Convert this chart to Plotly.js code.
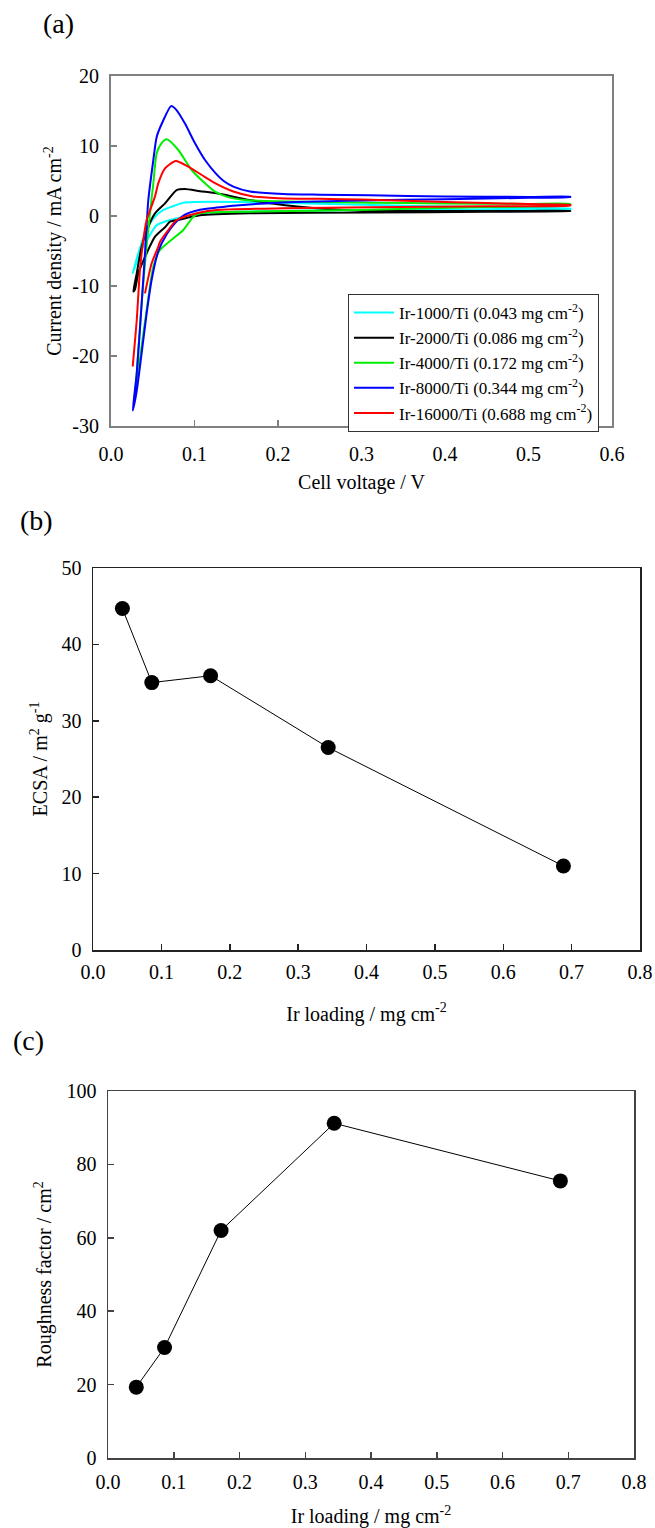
<!DOCTYPE html>
<html>
<head>
<meta charset="utf-8">
<script src="https://cdn.plot.ly/plotly-3.0.1.min.js"></script>
<style>html,body{margin:0;padding:0;background:#fff;}#chart{width:655px;height:1528px;}</style>
</head>
<body>
<div id="chart"></div>
<script>
// ---------- Panel (a): cyclic voltammograms ----------
const seriesNames = [
  'Ir-1000/Ti (0.043 mg cm<sup>-2</sup>)',
  'Ir-2000/Ti (0.086 mg cm<sup>-2</sup>)',
  'Ir-4000/Ti (0.172 mg cm<sup>-2</sup>)',
  'Ir-8000/Ti (0.344 mg cm<sup>-2</sup>)',
  'Ir-16000/Ti (0.688 mg cm<sup>-2</sup>)'
];
const seriesColors = ['#00ffff', '#000000', '#00ee00', '#0000ff', '#ff0000'];

const v1000 = [0.026,0.0327,0.0407,0.0467,0.0527,0.0627,0.0727,0.0866,0.10,0.15,0.20,0.25,0.30,0.40,0.50,0.55,
               0.55,0.45,0.35,0.25,0.15,0.1066,0.0707,0.0547,0.0487,0.0347,0.026];
const j1000 = [-8.19,-5.33,-2.48,-1.05,-0.1,0.86,1.33,1.9,2.0,2.0,1.9,1.75,1.6,1.35,1.15,1.05,
               0.95,0.95,0.9,0.8,0.6,0.4,-0.57,-1.3,-2.3,-5.33,-8.19];

const v2000 = [0.0267,0.0308,0.0367,0.0447,0.0527,0.0647,0.0786,0.0886,0.1066,0.1266,0.166,0.206,0.246,0.31,0.40,0.50,0.55,
               0.55,0.45,0.31,0.166,0.1066,0.0826,0.0707,0.0647,0.0527,0.0427,0.0327,0.0287,0.0267];
const j2000 = [-10.8,-8.2,-4.38,-1.5,0.38,1.81,3.71,3.86,3.55,3.24,2.29,1.57,1.1,0.72,0.72,0.72,0.72,
               0.7,0.6,0.5,0.38,0.1,-0.5,-0.81,-1.6,-2.95,-5.33,-8.2,-10.5,-10.8];

const v4000 = [0.028,0.0308,0.0367,0.042,0.0467,0.0507,0.0547,0.060,0.0667,0.0806,0.0966,0.1126,0.1246,0.14,0.16,0.20,0.25,0.31,0.40,0.50,0.55,
               0.55,0.45,0.31,0.166,0.1066,0.0986,0.0866,0.0587,0.0507,0.0427,0.0347,0.028];
const j4000 = [-26.3,-22.5,-12.5,-5.0,0.38,4.67,8.95,10.3,10.95,9.43,6.57,4.67,3.47,2.7,2.3,2.1,2.0,1.9,1.8,1.72,1.71,
               1.55,1.3,0.9,0.62,0.38,-0.1,-2.0,-4.86,-7.2,-13.4,-20.4,-26.3];

const v8000 = [0.026,0.0308,0.0367,0.0407,0.0447,0.0507,0.0547,0.062,0.0719,0.078,0.0886,0.1006,0.1126,0.1246,0.135,0.1465,0.1665,0.2064,0.25,0.31,0.40,0.50,0.55,
               0.55,0.50,0.40,0.30,0.20,0.15,0.1266,0.1066,0.0886,0.0767,0.0667,0.0567,0.0487,0.0427,0.0367,0.0308,0.026];
const j8000 = [-27.8,-22.5,-12.5,-5.33,2.29,8.0,11.3,13.5,15.7,15.2,13.2,10.4,8.0,6.2,5.0,4.2,3.5,3.15,3.05,2.95,2.8,2.72,2.76,
               2.7,2.6,2.4,2.2,1.9,1.5,1.2,0.9,0.2,-1.0,-2.6,-5.0,-9.1,-13.9,-19.6,-25.0,-27.8];

const v16000 = [0.026,0.0308,0.0347,0.0387,0.0427,0.047,0.0527,0.0567,0.0647,0.0775,0.0926,0.1086,0.1246,0.1465,0.17,0.20,0.25,0.30,0.40,0.50,0.55,
                0.55,0.45,0.31,0.206,0.1266,0.1066,0.0786,0.0687,0.0587,0.0567,0.0487,0.0407];
const j16000 = [-21.5,-14.9,-7.7,-3.43,-0.57,0.9,2.8,4.7,6.8,7.86,7.05,5.86,4.7,3.5,2.8,2.55,2.45,2.35,2.0,1.7,1.6,
                1.5,1.4,1.25,1.1,0.86,0.5,-0.57,-2.0,-3.67,-4.38,-6.76,-11.05];

const voltSeries = [v1000, v2000, v4000, v8000, v16000];
const currSeries = [j1000, j2000, j4000, j8000, j16000];

const aYTickVals = [20, 10, 0, -10, -20, -30];
const aYTickText = ['20', '10', '0', '-10', '-20', '-30'];

// ---------- Panels (b) and (c) ----------
const irLoading = [0.043, 0.086, 0.172, 0.344, 0.688];
const ecsa = [44.7, 35.0, 35.9, 26.5, 11.0];
const roughness = [19.3, 30.1, 62.0, 91.2, 75.5];

const FONT = "'Liberation Serif', 'Times New Roman', serif";
const traces = [];
for (let i = 0; i < seriesNames.length; i++) {
  traces.push({
    x: voltSeries[i], y: currSeries[i], name: seriesNames[i],
    type: 'scatter', mode: 'lines', xaxis: 'x', yaxis: 'y',
    line: {color: seriesColors[i], width: 2, shape: 'spline', smoothing: 0.6},
    showlegend: true
  });
}
traces.push({x: irLoading, y: ecsa, xaxis: 'x2', yaxis: 'y2', type: 'scatter', mode: 'lines+markers',
  line: {color: '#000', width: 1}, marker: {color: '#000', size: 15}, showlegend: false});
traces.push({x: irLoading, y: roughness, xaxis: 'x3', yaxis: 'y3', type: 'scatter', mode: 'lines+markers',
  line: {color: '#000', width: 1}, marker: {color: '#000', size: 15}, showlegend: false});

const W = 655, H = 1528;
const px = v => v / W;
const py = v => 1 - v / H;

function xax(dom, anchor, range, title, lc, lw, standoff, tlso) {
  return {domain: dom, anchor: anchor, range: range, dtick: 0.1, tick0: 0, tickformat: '.1f',
    showline: true, mirror: true, linecolor: lc, linewidth: lw, ticks: 'inside', ticklen: 6,
    tickcolor: lc, tickwidth: 1.5, showgrid: false, zeroline: false, ticklabelstandoff: tlso,
    tickfont: {family: FONT, size: 20, color: '#000'},
    title: {text: title, font: {family: FONT, size: 20, color: '#000'}, standoff: standoff}};
}
function yax(dom, anchor, range, title, lc, lw, standoff, extra) {
  const o = {domain: dom, anchor: anchor, range: range,
    showline: true, mirror: true, linecolor: lc, linewidth: lw, ticks: 'inside', ticklen: 6,
    tickcolor: lc, tickwidth: 1.5, showgrid: false, zeroline: false, ticklabelstandoff: 6,
    tickfont: {family: FONT, size: 20, color: '#000'},
    title: {text: title, font: {family: FONT, size: 20, color: '#000'}, standoff: standoff}};
  return Object.assign(o, extra || {});
}

const layout = {
  width: W, height: H, margin: {l: 0, r: 0, t: 0, b: 0},
  paper_bgcolor: '#fff', plot_bgcolor: '#fff',
  font: {family: FONT, color: '#000', size: 20},
  xaxis: xax([px(111), px(612)], 'y', [0, 0.6], 'Cell voltage / V', '#808080', 2, 11, 9),
  yaxis: yax([py(426), py(76)], 'x', [-30, 20], 'Current density / mA cm<sup>-2</sup>', '#808080', 2, 5,
    {tickmode: 'array', tickvals: aYTickVals, ticktext: aYTickText}),
  xaxis2: xax([px(93), px(640)], 'y2', [0, 0.8], 'Ir loading / mg cm<sup>-2</sup>', '#222', 1.5, 25, 3),
  yaxis2: yax([py(950), py(568)], 'x2', [0, 50], 'ECSA / m<sup>2</sup> g<sup>-1</sup>', '#222', 1.5, 8, {dtick: 10}),
  xaxis3: xax([px(108), px(634)], 'y3', [0, 0.8], 'Ir loading / mg cm<sup>-2</sup>', '#444', 1.5, 22, 5),
  yaxis3: yax([py(1458), py(1091)], 'x3', [0, 100], 'Roughness factor / cm<sup>2</sup>', '#444', 1.5, 9, {dtick: 20}),
  legend: {x: px(348), y: py(294), xanchor: 'left', yanchor: 'top', bgcolor: '#fff',
    bordercolor: '#333', borderwidth: 1, itemwidth: 40,
    font: {family: FONT, size: 17, color: '#000'}, tracegroupgap: 0},
  annotations: [
    {text: '(a)', x: px(58), y: py(24), xref: 'paper', yref: 'paper', xanchor: 'center', yanchor: 'middle', showarrow: false, font: {family: FONT, size: 28, color: '#000'}},
    {text: '(b)', x: px(36), y: py(520), xref: 'paper', yref: 'paper', xanchor: 'center', yanchor: 'middle', showarrow: false, font: {family: FONT, size: 28, color: '#000'}},
    {text: '(c)', x: px(28), y: py(1040), xref: 'paper', yref: 'paper', xanchor: 'center', yanchor: 'middle', showarrow: false, font: {family: FONT, size: 28, color: '#000'}}
  ],
  showlegend: true
};

Plotly.newPlot('chart', traces, layout, {staticPlot: true, displayModeBar: false});
</script>
</body>
</html>
